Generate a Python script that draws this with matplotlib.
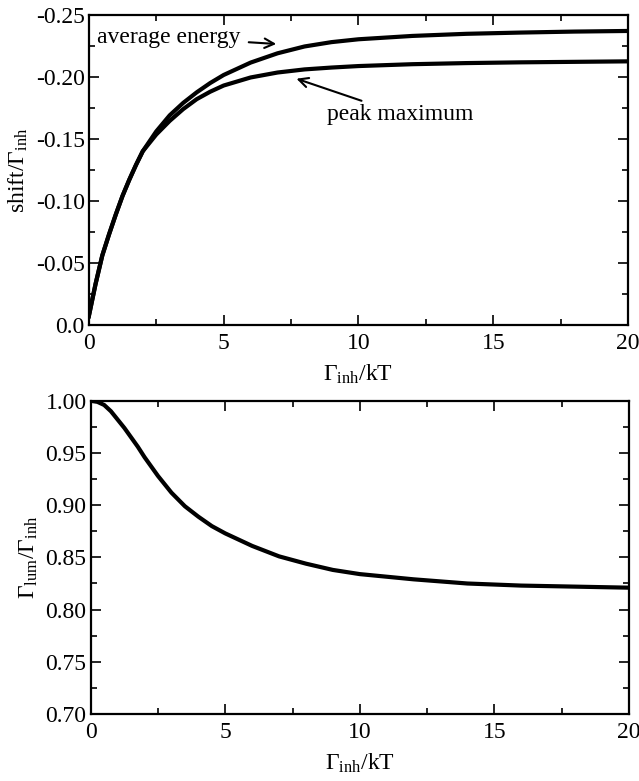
import numpy as np
import matplotlib
matplotlib.use("Agg")
import matplotlib.pyplot as plt

plt.rcParams['font.family'] = 'Liberation Serif'
plt.rcParams['mathtext.fontset'] = 'custom'
plt.rcParams['mathtext.rm'] = 'Liberation Serif'
plt.rcParams['mathtext.it'] = 'Liberation Serif:italic'
plt.rcParams['axes.unicode_minus'] = False

# shift of the luminescence band vs inhomogeneous width
x = [0, 0.25, 0.5, 0.75, 1, 1.25, 1.5, 1.75, 2, 2.5, 3, 3.5, 4, 4.5, 5,
     6, 7, 8, 9, 10, 12, 14, 16, 18, 20]
avg_energy = [-0.007, -0.033, -0.056, -0.073, -0.089, -0.104, -0.117, -0.129, -0.140,
              -0.156, -0.169, -0.179, -0.1875, -0.195, -0.2015, -0.2115, -0.219, -0.2245,
              -0.228, -0.2303, -0.233, -0.2347, -0.2357, -0.2365, -0.237]
peak_max = [-0.007, -0.033, -0.056, -0.073, -0.089, -0.104, -0.117, -0.129, -0.140,
            -0.1535, -0.1645, -0.174, -0.182, -0.188, -0.193, -0.1995, -0.2035, -0.206,
            -0.2075, -0.2087, -0.2102, -0.2111, -0.2117, -0.2121, -0.2125]

# width ratio
ratio = [1.000, 0.999, 0.996, 0.990, 0.982, 0.974, 0.965, 0.956, 0.946,
         0.928, 0.912, 0.899, 0.889, 0.880, 0.873, 0.861, 0.851, 0.844,
         0.838, 0.834, 0.829, 0.825, 0.823, 0.822, 0.821]

top_yticks = [0.0, -0.05, -0.10, -0.15, -0.20, -0.25]
top_ylabels = ["0.0", "-0.05", "-0.10", "-0.15", "-0.20", "-0.25"]
bot_yticks = [0.70, 0.75, 0.80, 0.85, 0.90, 0.95, 1.00]
xticks = [0, 5, 10, 15, 20]

xlab = r"$\Gamma_{\mathrm{inh}}$/kT"


def style(ax):
    ax.tick_params(which='both', direction='in', top=True, right=True, width=1.2)
    ax.tick_params(which='major', length=7, labelsize=17)
    ax.tick_params(axis='x', which='major', pad=6)
    ax.tick_params(axis='y', which='major', pad=3)
    ax.tick_params(which='minor', length=4)
    for s in ax.spines.values():
        s.set_linewidth(1.6)


fig = plt.figure(figsize=(6.39, 7.81), dpi=100)

ax1 = fig.add_axes([0.139, 0.584, 0.844, 0.397])
ax1.plot(x, avg_energy, 'k', lw=3)
ax1.plot(x, peak_max, 'k', lw=3)
ax1.set_xlim(0, 20)
ax1.set_ylim(0.0, -0.25)
ax1.set_xticks(xticks)
ax1.set_xticks(np.arange(0, 20.1, 2.5), minor=True)
ax1.set_yticks(top_yticks)
ax1.set_yticklabels(top_ylabels)
ax1.set_yticks(np.arange(0, -0.251, -0.025), minor=True)
ax1.set_xlabel(xlab, fontsize=17, labelpad=6)
ax1.set_ylabel(r"shift/$\Gamma_{\mathrm{inh}}$", fontsize=17, labelpad=4)
style(ax1)
ax1.annotate("average energy", xy=(6.95, -0.2265), xytext=(0.3, -0.232),
             fontsize=17, va='center',
             arrowprops=dict(arrowstyle='->', lw=1.5, color='k', shrinkA=4, shrinkB=0))
ax1.annotate("peak maximum", xy=(7.7, -0.1985), xytext=(8.85, -0.170),
             fontsize=17, va='center',
             arrowprops=dict(arrowstyle='->', lw=1.5, color='k', shrinkA=0, shrinkB=0))

ax2 = fig.add_axes([0.142, 0.0858, 0.842, 0.401])
ax2.plot(x, ratio, 'k', lw=3)
ax2.set_xlim(0, 20)
ax2.set_ylim(0.70, 1.00)
ax2.set_xticks(xticks)
ax2.set_xticks(np.arange(0, 20.1, 2.5), minor=True)
ax2.set_yticks(bot_yticks)
ax2.set_yticklabels(["%.2f" % v for v in bot_yticks])
ax2.set_yticks(np.arange(0.70, 1.001, 0.025), minor=True)
ax2.set_xlabel(xlab, fontsize=17, labelpad=6)
ax2.set_ylabel(r"$\Gamma_{\mathrm{lum}}$/$\Gamma_{\mathrm{inh}}$", fontsize=17, labelpad=4)
style(ax2)

fig.savefig("out.png", dpi=100)
